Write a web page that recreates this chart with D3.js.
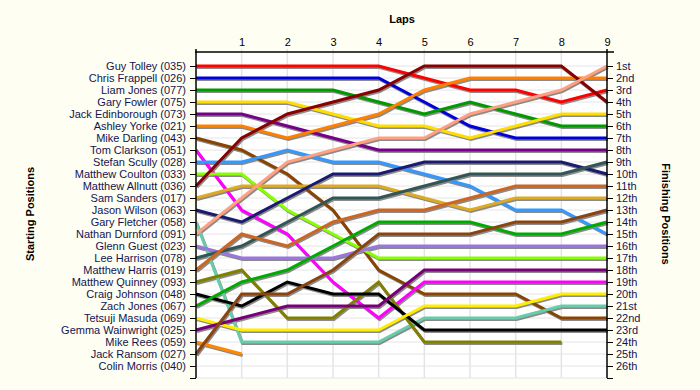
<!DOCTYPE html>
<html><head><meta charset="utf-8">
<script src="https://cdn.jsdelivr.net/npm/d3@7"></script>
<style>
html,body{margin:0;padding:0;background:#fefef2;}
svg{display:block;}
text{font-family:"Liberation Sans",Arial,sans-serif;}
</style></head>
<body>
<svg id="c" width="700" height="390"></svg>
<script>
const laps = [0,1,2,3,4,5,6,7,8,9];
const lapLabels = ["","1","2","3","4","5","6","7","8","9"];
const drivers = ["Guy Tolley (035)","Chris Frappell (026)","Liam Jones (077)","Gary Fowler (075)","Jack Edinborough (073)","Ashley Yorke (021)","Mike Darling (043)","Tom Clarkson (051)","Stefan Scully (028)","Matthew Coulton (033)","Matthew Allnutt (036)","Sam Sanders (017)","Jason Wilson (063)","Gary Fletcher (058)","Nathan Durnford (091)","Glenn Guest (023)","Lee Harrison (078)","Matthew Harris (019)","Matthew Quinney (093)","Craig Johnson (048)","Zach Jones (067)","Tetsuji Masuda (069)","Gemma Wainwright (025)","Mike Rees (059)","Jack Ransom (027)","Colin Morris (040)"];
const finishLabels = ["1st","2nd","3rd","4th","5th","6th","7th","8th","9th","10th","11th","12th","13th","14th","15th","16th","17th","18th","19th","20th","21st","22nd","23rd","24th","25th","26th"];
const colors = ["#ff0000","#0000dd","#009900","#ffdd00","#770088","#ff8000","#884400","#ff00ff","#3399ff","#88ff00","#880000","#ddaa22","#1a1a6e","#66ccaa","#ffa080","#9977dd","#335555","#cc6622","#808000","#000000","#00aa00","#ffee00","#770077","#ff8800","#884411",null];
// positions per lap (lap 0..9), null = retired
const positions = [
 [1,1,1,1,1,2,3,3,4,3],
 [2,2,2,2,2,4,6,7,7,7],
 [3,3,3,3,4,5,4,5,6,6],
 [4,4,4,5,6,6,7,6,5,5],
 [5,5,6,7,8,8,8,8,8,8],
 [6,6,7,6,5,3,2,2,2,2],
 [7,8,10,13,18,20,20,20,22,22],
 [8,13,15,19,22,19,19,19,19,19],
 [9,9,8,9,9,10,11,13,13,15],
 [10,10,13,15,17,17,17,17,17,17],
 [11,7,5,4,3,1,1,1,1,4],
 [12,11,11,11,11,12,13,12,12,12],
 [13,14,12,10,10,9,9,9,9,10],
 [14,24,24,24,24,22,22,22,21,21],
 [15,12,9,8,7,7,5,4,3,1],
 [16,17,17,17,16,16,16,16,16,16],
 [17,16,14,12,12,11,10,10,10,9],
 [18,15,16,14,13,13,12,11,11,11],
 [19,18,22,22,19,24,24,24,24,null],
 [20,21,19,20,20,23,23,23,23,23],
 [21,19,18,16,14,14,14,15,15,14],
 [22,23,23,23,23,21,21,21,20,20],
 [23,22,21,21,21,18,18,18,18,18],
 [24,25,null,null,null,null,null,null,null,null],
 [25,20,20,18,15,15,15,14,14,13],
 [null,null,null,null,null,null,null,null,null,null]
];

const svg = d3.select("#c");
const x = d3.scaleLinear().domain([0,9]).range([196,607]);
const y = d3.scaleLinear().domain([0,27]).range([54,378]);
const rows = d3.range(1,28);

// plot background
svg.append("rect").attr("x",x(0)).attr("y",y(0)-2).attr("width",x(9)-x(0)).attr("height",y(27)-y(0)+2).attr("fill","#ffffff");

// grid
const g = svg.append("g");
g.selectAll("line.h").data(rows).join("line")
 .attr("x1",x(0)).attr("x2",x(9)).attr("y1",d=>y(d)).attr("y2",d=>y(d))
 .attr("stroke","#e4e4e4").attr("stroke-width",1);
g.selectAll("line.v").data(laps.slice(1,9)).join("line")
 .attr("x1",d=>x(d)).attr("x2",d=>x(d)).attr("y1",y(0)-5).attr("y2",y(27))
 .attr("stroke","#e4e4e4").attr("stroke-width",1.5);

// lines
const line = d3.line().defined(d=>d[1]!=null).x(d=>x(d[0])).y(d=>y(d[1]));
const series = positions.map((p,i)=>({c:colors[i], pts:p.map((v,j)=>[laps[j],v])})).filter(s=>s.c);
const sh = svg.append("g").attr("transform","translate(1,1.5)");
sh.selectAll("path").data(series).join("path")
 .attr("d",d=>line(d.pts)).attr("fill","none").attr("stroke","#8a8a8a").attr("stroke-width",3).attr("stroke-linejoin","miter");
svg.append("g").selectAll("path").data(series).join("path")
 .attr("d",d=>line(d.pts)).attr("fill","none").attr("stroke",d=>d.c).attr("stroke-width",3).attr("stroke-linejoin","miter");

// axes
const axL = d3.axisLeft(y).tickValues(rows).tickSize(6).tickFormat(d=>drivers[d-1]||"");
const axR = d3.axisRight(y).tickValues(rows).tickSize(6).tickFormat(d=>finishLabels[d-1]||"");
const axT = d3.axisTop(x).tickValues(laps).tickSize(0).tickPadding(6).tickFormat((d,i)=>lapLabels[i]);
function style(sel){
  sel.select(".domain").remove();
  sel.selectAll("line").attr("stroke","#000");
  sel.selectAll("text").attr("font-size","11px").attr("fill","#141450");
}
svg.append("g").attr("transform",`translate(${x(0)},0)`).call(axL).call(style).selectAll("text").attr("dx","-1");
svg.append("g").attr("transform",`translate(${x(9)},0)`).call(axR).call(style);
svg.append("g").attr("transform",`translate(0,${y(0)-2})`).call(axT).call(style).selectAll("text").attr("fill","#000");

// axis lines
svg.append("line").attr("x1",x(0)).attr("x2",x(0)).attr("y1",y(0)-5).attr("y2",y(27)).attr("stroke","#000").attr("stroke-width",1.5);
svg.append("line").attr("x1",x(9)).attr("x2",x(9)).attr("y1",y(0)-5).attr("y2",y(27)).attr("stroke","#000").attr("stroke-width",1.5);
svg.append("line").attr("x1",x(0)-1).attr("x2",x(9)+7).attr("y1",y(0)-2).attr("y2",y(0)-2).attr("stroke","#000").attr("stroke-width",1.5);

// titles
svg.append("text").attr("x",402).attr("y",23).attr("text-anchor","middle").attr("font-size","11px").attr("font-weight","bold").text("Laps");
svg.append("text").attr("transform","translate(34,214) rotate(-90)").attr("text-anchor","middle").attr("font-size","11px").attr("font-weight","bold").text("Starting Positions");
svg.append("text").attr("transform","translate(662,214) rotate(90)").attr("text-anchor","middle").attr("font-size","11px").attr("font-weight","bold").text("Finishing Positions");
</script>
</body></html>
